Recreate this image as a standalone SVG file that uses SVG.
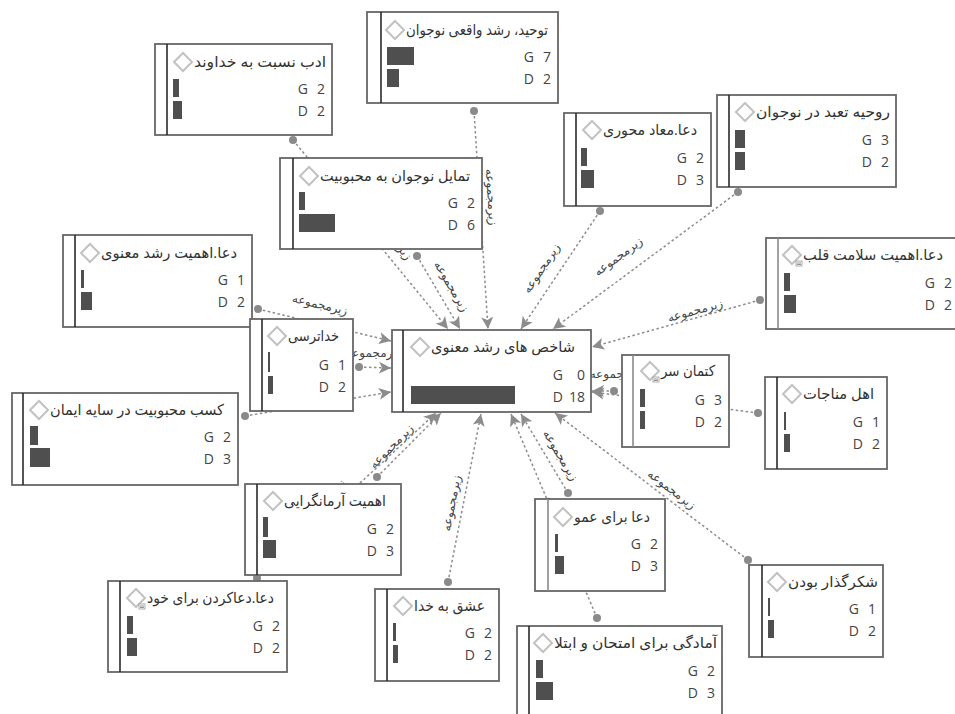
<svg xmlns="http://www.w3.org/2000/svg" xmlns:xlink="http://www.w3.org/1999/xlink" width="955" height="714" viewBox="0 0 955 714">
  <defs>
    <style>
      .box { fill: #fff; stroke: #666; stroke-width: 1.8; }
      .strip { stroke: #2a2a2a; stroke-width: 1.6; }
      .strip.light { stroke: #8a8a8a; }
      .title { font-family: 'Open Sans', 'DejaVu Sans', sans-serif; font-size: 15px; fill: #333; text-anchor: end; }
      .gd { font-family: 'Open Sans', 'DejaVu Sans', sans-serif; font-size: 14px; fill: #444; text-anchor: end; }
      .bar { fill: #4f4f4f; }
      .dia { fill: #fff; stroke: #c2c2c2; stroke-width: 2; }
      .conn { stroke: #8c8c8c; stroke-width: 1.5; stroke-dasharray: 2.5 2.5; fill: none; marker-end: url(#arrow); }
      .dot { fill: #8a8a8a; }
      .lbl { font-family: 'Open Sans', 'DejaVu Sans', sans-serif; font-size: 12px; fill: #444; text-anchor: middle; dominant-baseline: central; }
    </style>
    <marker id="arrow" markerUnits="userSpaceOnUse" markerWidth="13" markerHeight="13" refX="12" refY="6.5" orient="auto">
      <path d="M0,0.5 L12,6.5 L0,12.5 L3,6.5 Z" fill="#8c8c8c"/>
    </marker>
    <path id="dia" class="dia" d="M-9,0 L0,-9 L9,0 L0,9 Z"/>
    <g id="memo">
      <rect x="0" y="0" width="6" height="5" fill="#fff" stroke="#9a9a9a" stroke-width="0.8"/>
      <path d="M1,2 H5 M1,3.5 H5" stroke="#777" stroke-width="0.8"/>
    </g>
  </defs>

  <rect width="955" height="714" fill="#fff"/>

  <!-- connectors: source dot, dashed line, arrow at the target, rotated label -->
  <g id="connectors">
    <path class="conn" d="M474,111 L488,329"/>
    <circle class="dot" cx="474" cy="111" r="4"/>
    <text class="lbl" transform="translate(492,197) rotate(86.3)">زیرمجموعه</text>

    <path class="conn" d="M293,140 L448,329"/>
    <circle class="dot" cx="293" cy="140" r="4"/>
    <text class="lbl" transform="translate(392,236) rotate(50.6)">زیرمجموعه</text>

    <path class="conn" d="M417,256 L460,329"/>
    <circle class="dot" cx="417" cy="256" r="4"/>
    <text class="lbl" transform="translate(452,286) rotate(59.5)">زیرمجموعه</text>

    <path class="conn" d="M600,211 L521,329"/>
    <circle class="dot" cx="600" cy="211" r="4"/>
    <text class="lbl" transform="translate(541,268) rotate(-56.5)">زیرمجموعه</text>

    <path class="conn" d="M738,192 L553,329"/>
    <circle class="dot" cx="738" cy="192" r="4"/>
    <text class="lbl" transform="translate(618,256) rotate(-36.3)">زیرمجموعه</text>

    <path class="conn" d="M760,300 L592,347"/>
    <circle class="dot" cx="760" cy="300" r="4"/>
    <text class="lbl" transform="translate(695,310) rotate(-15.6)">زیرمجموعه</text>

    <path class="conn" d="M258,309 L391,341"/>
    <circle class="dot" cx="258" cy="309" r="4"/>
    <text class="lbl" transform="translate(320,304) rotate(13.5)">زیرمجموعه</text>

    <path class="conn" d="M359,367 L391,368"/>
    <circle class="dot" cx="359" cy="367" r="4"/>
    <text class="lbl" transform="translate(374,352)">زیرمجموعه</text>

    <path class="conn" d="M245,416 L391,392"/>
    <circle class="dot" cx="245" cy="416" r="4"/>

    <path class="conn" d="M758,413 L592,392"/>
    <circle class="dot" cx="758" cy="413" r="4"/>

    <path class="conn" d="M614,391 L592,391"/>
    <circle class="dot" cx="614" cy="391" r="4"/>
    <text class="lbl" transform="translate(618,373)">زیرمجموعه</text>

    <path class="conn" d="M377,477 L441,413"/>
    <circle class="dot" cx="377" cy="477" r="4"/>
    <text class="lbl" transform="translate(391,446) rotate(-45)">زیرمجموعه</text>

    <path class="conn" d="M257,578 L436,413"/>
    <circle class="dot" cx="257" cy="578" r="4"/>
    <text class="lbl" transform="translate(322,500) rotate(-42.5)">زیرمجموعه</text>

    <path class="conn" d="M448,582 L481,414"/>
    <circle class="dot" cx="448" cy="582" r="4"/>
    <text class="lbl" transform="translate(451,503) rotate(-78.9)">زیرمجموعه</text>

    <path class="conn" d="M568,493 L521,414"/>
    <circle class="dot" cx="568" cy="493" r="4"/>
    <text class="lbl" transform="translate(561,455) rotate(59.3)">زیرمجموعه</text>

    <path class="conn" d="M597,618 L511,414"/>
    <circle class="dot" cx="597" cy="618" r="4"/>
    <text class="lbl" transform="translate(561,522) rotate(67.1)">زیرمجموعه</text>

    <path class="conn" d="M748,560 L555,413"/>
    <circle class="dot" cx="748" cy="560" r="4"/>
    <text class="lbl" transform="translate(672,489) rotate(37.3)">زیرمجموعه</text>
  </g>

  <!-- nodes: frame, left strip, icon, title, G/D bars and counts -->
  <g id="n-tawhid">
    <rect class="box" x="367" y="12" width="191" height="91"/>
    <line class="strip" x1="381" y1="12" x2="381" y2="103"/>
    <use xlink:href="#dia" href="#dia" x="395" y="30"/>
    <text class="title" x="548" y="35" textLength="142" lengthAdjust="spacingAndGlyphs">توحید، رشد واقعی نوجوان</text>
    <rect class="bar" x="387" y="47" width="27" height="18"/>
    <rect class="bar" x="387" y="69" width="12" height="18"/>
    <text class="gd" x="534" y="62">G</text><text class="gd" x="551" y="62">7</text>
    <text class="gd" x="534" y="84">D</text><text class="gd" x="551" y="84">2</text>
  </g>

  <g id="n-adab">
    <rect class="box" x="155" y="44" width="177" height="91"/>
    <line class="strip" x1="167" y1="44" x2="167" y2="135"/>
    <use xlink:href="#dia" href="#dia" x="183" y="62"/>
    <text class="title" x="326" y="67" textLength="132" lengthAdjust="spacingAndGlyphs">ادب نسبت به خداوند</text>
    <rect class="bar" x="173" y="79" width="6" height="18"/>
    <rect class="bar" x="173" y="101" width="9" height="18"/>
    <text class="gd" x="308" y="94">G</text><text class="gd" x="325" y="94">2</text>
    <text class="gd" x="308" y="116">D</text><text class="gd" x="325" y="116">2</text>
  </g>

  <g id="n-tamayol">
    <rect class="box" x="280" y="158" width="202" height="91"/>
    <line class="strip" x1="293" y1="158" x2="293" y2="249"/>
    <use xlink:href="#dia" href="#dia" x="309" y="176"/>
    <text class="title" x="470" y="181" textLength="150" lengthAdjust="spacingAndGlyphs">تمایل نوجوان به محبوبیت</text>
    <rect class="bar" x="299" y="192" width="6" height="18"/>
    <rect class="bar" x="299" y="214" width="36" height="18"/>
    <text class="gd" x="458" y="208">G</text><text class="gd" x="475" y="208">2</text>
    <text class="gd" x="458" y="230">D</text><text class="gd" x="475" y="230">6</text>
  </g>

  <g id="n-maad">
    <rect class="box" x="564" y="113" width="147" height="93"/>
    <line class="strip" x1="576" y1="113" x2="576" y2="206"/>
    <use xlink:href="#dia" href="#dia" x="592" y="130"/>
    <text class="title" x="697" y="135" textLength="94" lengthAdjust="spacingAndGlyphs">دعا.معاد محوری</text>
    <rect class="bar" x="581" y="148" width="6" height="18"/>
    <rect class="bar" x="581" y="170" width="13" height="18"/>
    <text class="gd" x="687" y="163">G</text><text class="gd" x="704" y="163">2</text>
    <text class="gd" x="687" y="185">D</text><text class="gd" x="704" y="185">3</text>
  </g>

  <g id="n-taabbod">
    <rect class="box" x="717" y="95" width="179" height="92"/>
    <line class="strip" x1="729" y1="95" x2="729" y2="187"/>
    <use xlink:href="#dia" href="#dia" x="745" y="112"/>
    <text class="title" x="890" y="117" textLength="134" lengthAdjust="spacingAndGlyphs">روحیه تعبد در نوجوان</text>
    <rect class="bar" x="735" y="130" width="10" height="18"/>
    <rect class="bar" x="735" y="152" width="10" height="18"/>
    <text class="gd" x="872" y="145">G</text><text class="gd" x="889" y="145">3</text>
    <text class="gd" x="872" y="167">D</text><text class="gd" x="889" y="167">2</text>
  </g>

  <g id="n-qalb">
    <rect class="box" x="766" y="238" width="193" height="91"/>
    <line class="strip light" x1="778" y1="238" x2="778" y2="329"/>
    <use xlink:href="#dia" href="#dia" x="792" y="255"/>
    <use xlink:href="#memo" href="#memo" x="796" y="261"/>
    <text class="title" x="943" y="260" textLength="140" lengthAdjust="spacingAndGlyphs">دعا.اهمیت سلامت قلب</text>
    <rect class="bar" x="784" y="273" width="6" height="18"/>
    <rect class="bar" x="784" y="295" width="12" height="18"/>
    <text class="gd" x="935" y="288">G</text><text class="gd" x="952" y="288">2</text>
    <text class="gd" x="935" y="310">D</text><text class="gd" x="952" y="310">2</text>
  </g>

  <g id="n-roshd">
    <rect class="box" x="63" y="235" width="189" height="92"/>
    <line class="strip" x1="75" y1="235" x2="75" y2="327"/>
    <use xlink:href="#dia" href="#dia" x="90" y="253"/>
    <text class="title" x="237" y="258" textLength="136" lengthAdjust="spacingAndGlyphs">دعا.اهمیت رشد معنوی</text>
    <rect class="bar" x="81" y="270" width="3" height="18"/>
    <rect class="bar" x="81" y="292" width="11" height="18"/>
    <text class="gd" x="228" y="285">G</text><text class="gd" x="245" y="285">1</text>
    <text class="gd" x="228" y="307">D</text><text class="gd" x="245" y="307">2</text>
  </g>

  <g id="n-khodatarsi">
    <rect class="box" x="250" y="319" width="103" height="92"/>
    <line class="strip" x1="262" y1="319" x2="262" y2="411"/>
    <use xlink:href="#dia" href="#dia" x="277" y="336"/>
    <text class="title" x="339" y="341" textLength="51" lengthAdjust="spacingAndGlyphs">خداترسی</text>
    <rect class="bar" x="268" y="352" width="2" height="20"/>
    <rect class="bar" x="268" y="376" width="5" height="18"/>
    <text class="gd" x="329" y="370">G</text><text class="gd" x="346" y="370">1</text>
    <text class="gd" x="329" y="392">D</text><text class="gd" x="346" y="392">2</text>
  </g>

  <g id="n-kasb">
    <rect class="box" x="12" y="393" width="226" height="92"/>
    <line class="strip" x1="23" y1="393" x2="23" y2="485"/>
    <use xlink:href="#dia" href="#dia" x="39" y="410"/>
    <text class="title" x="224" y="415" textLength="174" lengthAdjust="spacingAndGlyphs">کسب محبوبیت در سایه ایمان</text>
    <rect class="bar" x="30" y="426" width="8" height="19"/>
    <rect class="bar" x="30" y="448" width="20" height="19"/>
    <text class="gd" x="214" y="442">G</text><text class="gd" x="231" y="442">2</text>
    <text class="gd" x="214" y="464">D</text><text class="gd" x="231" y="464">3</text>
  </g>

  <g id="n-center">
    <rect class="box" x="392" y="330" width="199" height="82"/>
    <line class="strip" x1="403" y1="330" x2="403" y2="412"/>
    <use xlink:href="#dia" href="#dia" x="420" y="347"/>
    <text class="title" x="575" y="352" textLength="144" lengthAdjust="spacingAndGlyphs">شاخص های رشد معنوی</text>
    <rect class="bar" x="411" y="386" width="104" height="18"/>
    <text class="gd" x="563" y="380">G</text><text class="gd" x="585" y="380">0</text>
    <text class="gd" x="563" y="402">D</text><text class="gd" x="585" y="402">18</text>
  </g>

  <g id="n-ketman">
    <rect class="box" x="622" y="355" width="107" height="92"/>
    <line class="strip light" x1="633" y1="355" x2="633" y2="447"/>
    <use xlink:href="#dia" href="#dia" x="650" y="371"/>
    <use xlink:href="#memo" href="#memo" x="653" y="377"/>
    <text class="title" x="715" y="376" textLength="54" lengthAdjust="spacingAndGlyphs">کتمان سر</text>
    <rect class="bar" x="640" y="389" width="5" height="18"/>
    <rect class="bar" x="640" y="411" width="5" height="18"/>
    <text class="gd" x="705" y="405">G</text><text class="gd" x="722" y="405">3</text>
    <text class="gd" x="705" y="427">D</text><text class="gd" x="722" y="427">2</text>
  </g>

  <g id="n-monajat">
    <rect class="box" x="765" y="377" width="122" height="92"/>
    <line class="strip" x1="777" y1="377" x2="777" y2="469"/>
    <use xlink:href="#dia" href="#dia" x="792" y="394"/>
    <text class="title" x="874" y="399" textLength="71" lengthAdjust="spacingAndGlyphs">اهل مناجات</text>
    <rect class="bar" x="784" y="412" width="2" height="18"/>
    <rect class="bar" x="784" y="434" width="6" height="18"/>
    <text class="gd" x="863" y="427">G</text><text class="gd" x="880" y="427">1</text>
    <text class="gd" x="863" y="449">D</text><text class="gd" x="880" y="449">2</text>
  </g>

  <g id="n-armangarayi">
    <rect class="box" x="245" y="484" width="156" height="91"/>
    <line class="strip" x1="257" y1="484" x2="257" y2="575"/>
    <use xlink:href="#dia" href="#dia" x="273" y="501"/>
    <text class="title" x="386" y="506" textLength="102" lengthAdjust="spacingAndGlyphs">اهمیت آرمانگرایی</text>
    <rect class="bar" x="263" y="517" width="5" height="20"/>
    <rect class="bar" x="263" y="540" width="13" height="18"/>
    <text class="gd" x="377" y="534">G</text><text class="gd" x="394" y="534">2</text>
    <text class="gd" x="377" y="556">D</text><text class="gd" x="394" y="556">3</text>
  </g>

  <g id="n-doakardan">
    <rect class="box" x="108" y="581" width="179" height="91"/>
    <line class="strip" x1="120" y1="581" x2="120" y2="672"/>
    <use xlink:href="#dia" href="#dia" x="136" y="598"/>
    <use xlink:href="#memo" href="#memo" x="139" y="604"/>
    <text class="title" x="274" y="603" textLength="127" lengthAdjust="spacingAndGlyphs">دعا.دعاکردن برای خود</text>
    <rect class="bar" x="127" y="616" width="6" height="18"/>
    <rect class="bar" x="127" y="638" width="10" height="18"/>
    <text class="gd" x="263" y="631">G</text><text class="gd" x="280" y="631">2</text>
    <text class="gd" x="263" y="653">D</text><text class="gd" x="280" y="653">2</text>
  </g>

  <g id="n-eshgh">
    <rect class="box" x="375" y="589" width="124" height="92"/>
    <line class="strip" x1="387" y1="589" x2="387" y2="681"/>
    <use xlink:href="#dia" href="#dia" x="403" y="606"/>
    <text class="title" x="485" y="611" textLength="71" lengthAdjust="spacingAndGlyphs">عشق به خدا</text>
    <rect class="bar" x="393" y="623" width="3" height="18"/>
    <rect class="bar" x="393" y="645" width="5" height="18"/>
    <text class="gd" x="475" y="638">G</text><text class="gd" x="492" y="638">2</text>
    <text class="gd" x="475" y="660">D</text><text class="gd" x="492" y="660">2</text>
  </g>

  <g id="n-amu">
    <rect class="box" x="535" y="499" width="130" height="92"/>
    <line class="strip light" x1="548" y1="499" x2="548" y2="591"/>
    <use xlink:href="#dia" href="#dia" x="563" y="517"/>
    <text class="title" x="650" y="522" textLength="76" lengthAdjust="spacingAndGlyphs">دعا برای عمو</text>
    <rect class="bar" x="555" y="534" width="3" height="18"/>
    <rect class="bar" x="555" y="556" width="9" height="18"/>
    <text class="gd" x="641" y="549">G</text><text class="gd" x="658" y="549">2</text>
    <text class="gd" x="641" y="571">D</text><text class="gd" x="658" y="571">3</text>
  </g>

  <g id="n-amadegi">
    <rect class="box" x="517" y="626" width="205" height="100"/>
    <line class="strip" x1="529" y1="626" x2="529" y2="726"/>
    <use xlink:href="#dia" href="#dia" x="543" y="643"/>
    <text class="title" x="717" y="648" textLength="163" lengthAdjust="spacingAndGlyphs">آمادگی برای امتحان و ابتلا</text>
    <rect class="bar" x="536" y="660" width="7" height="18"/>
    <rect class="bar" x="536" y="682" width="17" height="18"/>
    <text class="gd" x="698" y="676">G</text><text class="gd" x="715" y="676">2</text>
    <text class="gd" x="698" y="698">D</text><text class="gd" x="715" y="698">3</text>
  </g>

  <g id="n-shokr">
    <rect class="box" x="749" y="565" width="134" height="92"/>
    <line class="strip" x1="762" y1="565" x2="762" y2="657"/>
    <use xlink:href="#dia" href="#dia" x="777" y="582"/>
    <text class="title" x="878" y="587" textLength="90" lengthAdjust="spacingAndGlyphs">شکرگذار بودن</text>
    <rect class="bar" x="768" y="598" width="2" height="18"/>
    <rect class="bar" x="768" y="620" width="6" height="18"/>
    <text class="gd" x="859" y="614">G</text><text class="gd" x="876" y="614">1</text>
    <text class="gd" x="859" y="636">D</text><text class="gd" x="876" y="636">2</text>
  </g>
</svg>
